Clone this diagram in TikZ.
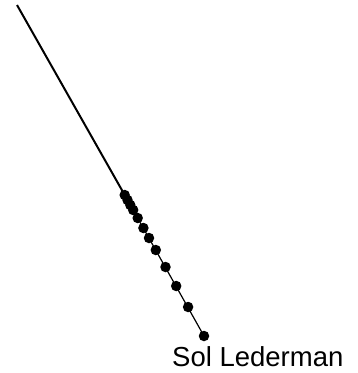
\documentclass[tikz,border=0pt]{standalone}
\usepackage{fontspec}
\setmainfont{Liberation Sans}
\usetikzlibrary{positioning}

\begin{document}
\begin{tikzpicture}[x=1pt, y=-1pt,
  dot/.style={circle, fill=black, inner sep=0pt, minimum size=10.5pt}]
  \useasboundingbox (0, 0) rectangle (357, 373);

  % upper end of the line
  \coordinate (top) at (17, 5);

  % points along the line
  \foreach \x/\y [count=\i] in {124.7/195, 127.5/200, 130.3/205, 133.2/210, 137.7/218, 143.4/228,
                                149.0/238, 155.8/250, 165.5/267, 176.2/286, 188.1/307, 204/336}
    \node[dot] (d\i) at (\x, \y) {};

  % line
  \draw[line width=2pt] (top) -- (d1.center);
  \draw[line width=1.2pt] (d1.center) -- (d12.center);

  % label
  \node[anchor=base west, inner sep=0pt, font=\fontsize{27.5}{33}\selectfont] (name) at (172, 366) {Sol Lederman};
\end{tikzpicture}
\end{document}
